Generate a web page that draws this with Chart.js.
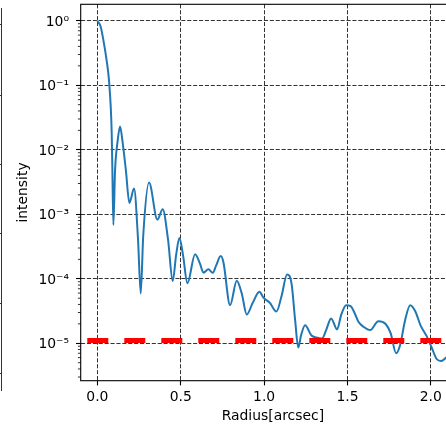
<!DOCTYPE html>
<html>
<head>
<meta charset="utf-8">
<script src="https://cdn.jsdelivr.net/npm/chart.js@4.4.1/dist/chart.umd.min.js"></script>
<style>
  html, body { margin: 0; padding: 0; background: #fff; overflow: hidden; }
  #wrap { position: relative; width: 470px; height: 424px; }
  #profileChart { position: absolute; left: 0; top: 0; }
  .edge { position: absolute; background: #333; }
</style>
</head>
<body>
<div id="wrap">
  <canvas id="profileChart" width="470" height="424"></canvas>
</div>
<script>
// radial profile
const radius = [
  0.000, 0.020, 0.036, 0.052, 0.066, 0.072, 0.080, 0.086, 0.090, 0.096,
  0.106, 0.122, 0.136, 0.150, 0.171, 0.192, 0.220, 0.244, 0.260, 0.275,
  0.310, 0.360, 0.392, 0.424, 0.452, 0.472, 0.492, 0.514, 0.540, 0.586,
  0.616, 0.636, 0.666, 0.692, 0.712, 0.740, 0.756, 0.796, 0.836, 0.866,
  0.896, 0.932, 0.972, 0.996, 1.034, 1.074, 1.104, 1.138, 1.165, 1.186,
  1.205, 1.222, 1.246, 1.284, 1.314, 1.348, 1.372, 1.402, 1.438, 1.462,
  1.492, 1.519, 1.544, 1.566, 1.596, 1.636, 1.685, 1.729, 1.759, 1.792,
  1.816, 1.846, 1.876, 1.906, 1.939, 1.975, 2.005, 2.035, 2.062, 2.092,
  2.110
];
const intensity = [
  1.0, 0.81, 0.50, 0.28, 0.15, 0.10, 0.047, 0.018, 0.0048, 0.00068,
  0.0048, 0.014, 0.023, 0.014, 0.0048, 0.0015, 0.0025, 0.0004, 0.000059, 0.00046,
  0.0031, 0.00083, 0.0012, 0.0004, 0.000092, 0.00023, 0.00043, 0.00023, 0.000085, 0.00024,
  0.00017, 0.000124, 0.00014, 0.000124, 0.00016, 0.000225, 0.00018, 0.000039, 0.000093, 0.000059,
  0.000028, 0.0000425, 0.000063, 0.000051, 0.0000425, 0.000031, 0.000053, 0.000116, 0.000083, 0.000023,
  0.0000086, 0.0000134, 0.000019, 0.0000132, 0.0000123, 0.0000119, 0.000016, 0.0000243, 0.0000164, 0.0000274,
  0.000039, 0.0000378, 0.000029, 0.0000215, 0.000018, 0.000016, 0.0000219, 0.0000199, 0.0000144, 0.000007,
  0.0000094, 0.000023, 0.000039, 0.0000316, 0.0000188, 0.0000129, 0.0000086, 0.0000057, 0.0000053, 0.000006,
  0.0000066
];
const thresholdLevel = 1.1e-5;
const radiusTicks = [0, 0.5, 1.0, 1.5, 2.0];
const intensityDecades = [1e-5, 1e-4, 1e-3, 1e-2, 1e-1, 1];
const xMin = -0.1, xMax = 2.205;
const yMin = 2.63e-6, yMax = 1.8;

const SUP = {'0':'⁰','1':'¹','2':'²','3':'³','4':'⁴','5':'⁵','6':'⁶','7':'⁷','8':'⁸','9':'⁹','-':'⁻'};
function decadeLabel(v) {
  const e = String(Math.round(Math.log10(v)));
  return '10' + e.split('').map(c => SUP[c]).join('');
}

// edge of the neighbouring panel, cut by the crop
(function neighbourEdge() {
  const wrap = document.getElementById('wrap');
  const line = document.createElement('div');
  line.className = 'edge';
  line.style.cssText = 'left:1px;top:8px;width:1px;height:383px;';
  wrap.appendChild(line);
  [24, 95, 163.5, 233, 302.7, 372.7].forEach(t => {
    const d = document.createElement('div');
    d.className = 'edge';
    d.style.cssText = 'left:0;top:' + t + 'px;width:2px;height:1px;';
    wrap.appendChild(d);
  });
})();

const frameAndMinorTicks = {
  id: 'frameAndMinorTicks',
  afterDraw(chart) {
    const {ctx, chartArea: a, scales: {y}} = chart;
    ctx.save();
    ctx.strokeStyle = '#000';
    ctx.lineWidth = 0.8;
    for (let e = -6; e <= 0; e++) {
      for (let m = 2; m <= 9; m++) {
        const v = m * Math.pow(10, e);
        if (v < y.min || v > y.max) continue;
        const py = y.getPixelForValue(v);
        ctx.beginPath();
        ctx.moveTo(a.left - 2.8, py);
        ctx.lineTo(a.left, py);
        ctx.stroke();
      }
    }
    ctx.lineWidth = 1.1;
    ctx.strokeRect(a.left, a.top, a.right - a.left, a.bottom - a.top);
    ctx.restore();
  }
};

// keep the plot box where the reference has it
function pinBox(s, size) {
  if (s.isHorizontal()) s.height = size; else s.width = size;
  s.paddingTop = 0;
  s.paddingBottom = 0;
  s.paddingLeft = 0;
  s.paddingRight = 0;
}

Chart.defaults.font.family = "'DejaVu Sans', sans-serif";

const gridOpts = {
  color: '#333',
  lineWidth: 1,
  drawTicks: true,
  tickLength: 4.7,
  tickColor: '#000',
  tickWidth: 1.1
};

new Chart(document.getElementById('profileChart'), {
  type: 'line',
  data: {
    datasets: [
      {
        label: 'threshold',
        data: [{x: xMin, y: thresholdLevel}, {x: xMax, y: thresholdLevel}],
        borderColor: '#ff0000',
        borderWidth: 5,
        borderDash: [21, 16],
        borderDashOffset: 30.4,
        borderCapStyle: 'butt',
        pointRadius: 0,
        tension: 0,
        order: 0
      },
      {
        label: 'profile',
        data: radius.map((r, i) => ({x: r, y: intensity[i]})),
        borderColor: '#1f77b4',
        borderWidth: 2,
        pointRadius: 0,
        cubicInterpolationMode: 'monotone',
        order: 1
      }
    ]
  },
  options: {
    responsive: false,
    animation: false,
    layout: { padding: { left: 0, top: 4.3, right: 5, bottom: 0 } },
    plugins: {
      legend: { display: false },
      tooltip: { enabled: false }
    },
    scales: {
      x: {
        type: 'linear',
        min: xMin,
        max: xMax,
        bounds: 'data',
        afterBuildTicks: s => { s.ticks = radiusTicks.map(v => ({value: v})); },
        afterFit: s => pinBox(s, 43.3),
        ticks: {
          callback: v => v.toFixed(1),
          color: '#000',
          font: { size: 13.9 },
          padding: 4,
          maxRotation: 0,
          autoSkip: false
        },
        grid: gridOpts,
        border: { display: false, dash: [4.1, 1.8] },
        title: {
          display: true,
          text: 'Radius[arcsec]',
          color: '#000',
          font: { size: 13.9, lineHeight: 1 },
          padding: { top: 0, bottom: 1.1 }
        }
      },
      y: {
        type: 'logarithmic',
        min: yMin,
        max: yMax,
        bounds: 'data',
        afterBuildTicks: s => { s.ticks = intensityDecades.map(v => ({value: v, major: true})); },
        afterFit: s => pinBox(s, 80.7),
        ticks: {
          callback: v => decadeLabel(v),
          color: '#000',
          font: { size: 13.9 },
          padding: 7,
          labelOffset: 1.5,
          autoSkip: false
        },
        grid: gridOpts,
        border: { display: false, dash: [4.1, 1.8] },
        title: {
          display: true,
          text: 'intensity',
          color: '#000',
          font: { size: 13.9, lineHeight: 1 },
          padding: { top: 16.5, bottom: 0 }
        }
      }
    }
  },
  plugins: [frameAndMinorTicks]
});
</script>
</body>
</html>
